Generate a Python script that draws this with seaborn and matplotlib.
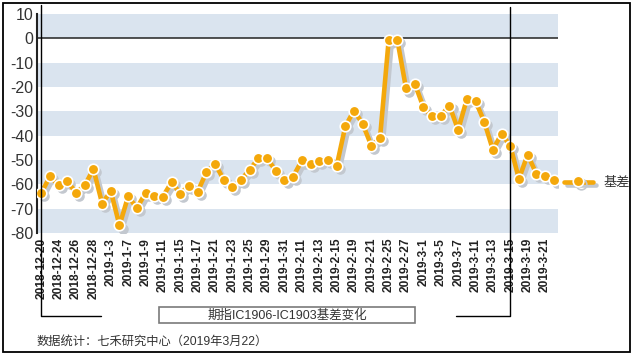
import matplotlib
matplotlib.use("Agg")
import matplotlib.pyplot as plt
import matplotlib.patheffects as pe
from matplotlib.patches import Rectangle
from matplotlib.lines import Line2D
from matplotlib.transforms import blended_transform_factory, offset_copy
import seaborn as sns
import pandas as pd

# ---- data ----
dates = ["2018-12-20", "2018-12-21", "2018-12-24", "2018-12-25", "2018-12-26", "2018-12-27",
         "2018-12-28", "2019-1-2", "2019-1-3", "2019-1-4", "2019-1-7", "2019-1-8",
         "2019-1-9", "2019-1-10", "2019-1-11", "2019-1-14", "2019-1-15", "2019-1-16",
         "2019-1-17", "2019-1-18", "2019-1-21", "2019-1-22", "2019-1-23", "2019-1-24",
         "2019-1-25", "2019-1-28", "2019-1-29", "2019-1-30", "2019-1-31", "2019-2-1",
         "2019-2-11", "2019-2-12", "2019-2-13", "2019-2-14", "2019-2-15", "2019-2-18",
         "2019-2-19", "2019-2-20", "2019-2-21", "2019-2-22", "2019-2-25", "2019-2-26",
         "2019-2-27", "2019-2-28", "2019-3-1", "2019-3-4", "2019-3-5", "2019-3-6",
         "2019-3-7", "2019-3-8", "2019-3-11", "2019-3-12", "2019-3-13", "2019-3-14",
         "2019-3-15", "2019-3-18", "2019-3-19", "2019-3-20", "2019-3-21", "2019-3-22"]
basis = [-63.5, -56.7, -60.4, -58.8, -63.5, -60.4, -53.7, -67.9, -62.8, -76.9,
         -64.9, -69.8, -63.5, -64.6, -65.0, -59.1, -63.8, -60.5, -63.0, -55.1,
         -51.5, -58.1, -61.1, -58.1, -54.0, -49.3, -49.3, -54.5, -58.4, -56.8,
         -50.2, -51.5, -50.4, -49.9, -52.6, -36.2, -29.7, -35.1, -44.1, -41.1,
         -0.7, -0.7, -20.6, -18.6, -28.3, -32.1, -31.8, -27.7, -37.6, -25.0,
         -25.8, -34.2, -45.8, -39.2, -44.1, -57.8, -47.8, -55.6, -56.4, -58.3]
y_ticks = [10, 0, -10, -20, -30, -40, -50, -60, -70, -80]
series_name = "基差"
title_text = "期指IC1906-IC1903基差变化"
footer_text = "数据统计：七禾研究中心（2019年3月22）"
bracket_start = "2018-12-20"
bracket_end = "2019-3-15"

df = pd.DataFrame({"idx": range(len(dates)), "date": dates, "value": basis})

sns.set_style("white")
plt.rcParams["font.family"] = ["Liberation Sans", "Noto Sans CJK SC", "DejaVu Sans"]

W, H = 633, 358
fig = plt.figure(figsize=(W / 100, H / 100), dpi=100)
ax = fig.add_axes([37 / W, 1 - 233 / H, (558 - 37) / W, (233 - 14) / H])

ORANGE = "#F4A80B"
BAND = "#DAE4EF"
SHADOW = "#C3C8CF"

# bands
for lo in range(-80, 10, 20):
    ax.axhspan(lo, lo + 10, color=BAND, lw=0, zorder=0)
ax.axhline(0, color="#222222", lw=1.1, zorder=1)

# shadow series
sns.lineplot(data=df, x="idx", y="value", ax=ax, color=SHADOW, lw=3.3,
             marker="o", markersize=7.6, markerfacecolor=SHADOW,
             markeredgecolor=SHADOW, markeredgewidth=0, legend=False, zorder=2)
ax.lines[-1].set_transform(offset_copy(ax.transData, fig=fig, x=2.2, y=-2.2, units="points"))

# main series
sns.lineplot(data=df, x="idx", y="value", ax=ax, color=ORANGE, lw=3.3,
             marker="o", markersize=7.6, markerfacecolor=ORANGE,
             markeredgecolor="white", markeredgewidth=1.2, legend=False, zorder=3)
line = ax.lines[-1]

ax.set_xlim(-0.5, len(dates) - 0.5)
ax.set_ylim(-80, 10)
ax.set_yticks(y_ticks)
ax.set_yticklabels([str(v) for v in y_ticks])
ax.set_xticks(df["idx"][::2])
ax.set_xticklabels(df["date"][::2], rotation=90, fontweight="bold", fontsize=8.6, color="#222222")
ax.tick_params(axis="x", length=0, pad=3.6)
ax.tick_params(axis="y", length=0, pad=2.8, labelsize=11.5, labelcolor="#333333")
ax.set_xlabel("")
ax.set_ylabel("")
for s in ["top", "right", "bottom"]:
    ax.spines[s].set_visible(False)
ax.spines["left"].set_color("#222222")
ax.spines["left"].set_linewidth(1.5)

# bracket lines
bt = blended_transform_factory(ax.transData, fig.transFigure)
i0 = dates.index(bracket_start)
i1 = dates.index(bracket_end)
ytop0, ytop1, ybot = 1 - 5 / H, 1 - 7 / H, 1 - 316 / H
fig.add_artist(Line2D([i0, i0, i0 + 6.9], [ytop0, ybot, ybot], transform=bt, color="black", lw=1))
fig.add_artist(Line2D([i1, i1, i1 - 6.2], [ytop1, ybot, ybot], transform=bt, color="black", lw=1))

# legend (proxy handle with shadow)
proxy = Line2D([], [], color=ORANGE, lw=3.3, marker="o", markersize=7.6,
               markerfacecolor=ORANGE, markeredgecolor="white", markeredgewidth=1.2,
               path_effects=[pe.SimpleLineShadow(offset=(2.2, -2.2), shadow_color=SHADOW, alpha=1),
                             pe.Normal()])
fig.legend(handles=[proxy], labels=[series_name], loc="center left",
           bbox_to_anchor=(564 / W, 1 - 183 / H), frameon=False, borderaxespad=0,
           borderpad=0, handlelength=2.2, handletextpad=0.8, fontsize=9.5,
           labelcolor="#333333")

# title box
fig.add_artist(Rectangle((159 / W, 1 - 323 / H), (415 - 159) / W, 16 / H,
                         transform=fig.transFigure, facecolor="white", edgecolor="#7a7a7a", lw=1.2))
fig.text(287 / W, 1 - 315 / H, title_text, ha="center", va="center", fontsize=9, color="#333333")

# footer
fig.text(37 / W, 1 - 342 / H, footer_text, ha="left", va="center", fontsize=8.8, color="#333333")

# outer border
fig.add_artist(Rectangle((3 / W, 1 - 352 / H), 627 / W, 349 / H, transform=fig.transFigure,
                         facecolor="none", edgecolor="black", lw=1.3))

fig.savefig("out.png", dpi=100)
